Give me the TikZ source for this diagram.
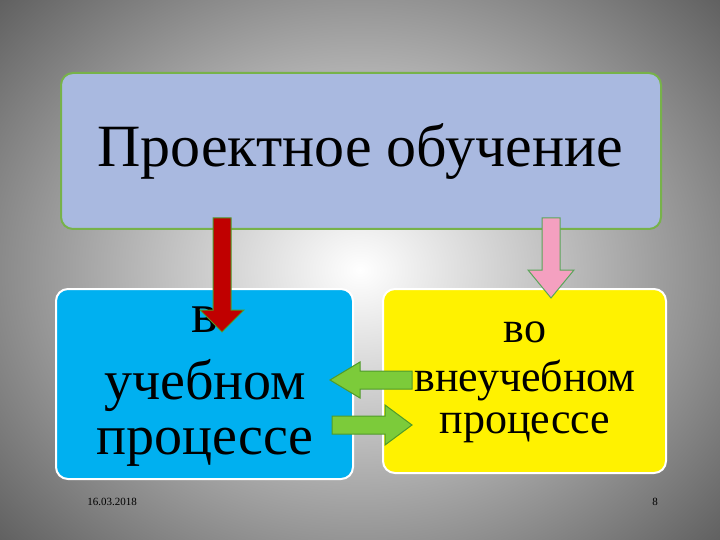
\documentclass[tikz,border=0pt]{standalone}
\usepackage{fontspec}
\setmainfont{Liberation Serif}
\definecolor{topfill}{HTML}{A9B9E0}
\definecolor{topedge}{HTML}{77B24A}
\definecolor{cyanbox}{HTML}{00B0F0}
\definecolor{arrgreen}{HTML}{7CCB3A}
\definecolor{arrgreenedge}{HTML}{4F9A2A}
\definecolor{arrred}{HTML}{C00000}
\definecolor{arrpink}{HTML}{F4A0C0}
\begin{document}
\begin{tikzpicture}[x=1pt,y=-1pt,
  box/.style={rounded corners=12pt},
  big/.style={font=\fontsize{60}{66}\selectfont},
  lft/.style={font=\fontsize{56}{62}\selectfont},
  mid/.style={font=\fontsize{44}{50}\selectfont},
  small/.style={font=\fontsize{11}{13}\selectfont}]
\useasboundingbox (0,0) rectangle (720,540);
\shade[inner color=white, outer color=gray!70!black] (-150,-150) rectangle (870,690);
\node[box, draw=topedge, line width=2pt, fill=topfill, minimum width=600pt, minimum height=156pt, anchor=north west] (top) at (60,72) {};
\node[big] (t1) at (360,152) {Проектное обучение};
\node[box, draw=white, line width=2pt, fill=cyanbox, minimum width=297pt, minimum height=190pt, anchor=north west] (lb) at (55,288) {};
\node[box, draw=white, line width=2pt, fill=yellow, minimum width=283pt, minimum height=184pt, anchor=north west] (rb) at (382,288) {};
\node[lft] (l1) at (205,320) {в};
\node[lft] (l2) at (205,385) {учебном};
\node[lft] (l3) at (205,447) {процессе};
\node[mid] (r1) at (525,332) {во};
\node[mid] (r2) at (525,380) {внеучебном};
\node[mid] (r3) at (525,428) {процессе};
\node[small] (d) at (112,502) {16.03.2018};
\node[small] (p) at (655,502) {8};
% arrows
\filldraw[fill=arrred, draw=arrgreenedge, line width=1pt] (213,218) -- (231,218) -- (231,310) -- (244,310) -- (222,332) -- (200,310) -- (213,310) -- cycle;
\filldraw[fill=arrpink, draw=gray!70!green, line width=1pt] (542,218) -- (560,218) -- (560,270) -- (574,270) -- (551,298) -- (528,270) -- (542,270) -- cycle;
\filldraw[fill=arrgreen, draw=arrgreenedge, line width=1pt] (412,371) -- (360,371) -- (360,362) -- (330,380) -- (360,398) -- (360,389) -- (412,389) -- cycle;
\filldraw[fill=arrgreen, draw=arrgreenedge, line width=1pt] (332,416) -- (385,416) -- (385,405) -- (412,425) -- (385,445) -- (385,434) -- (332,434) -- cycle;
\end{tikzpicture}
\end{document}
